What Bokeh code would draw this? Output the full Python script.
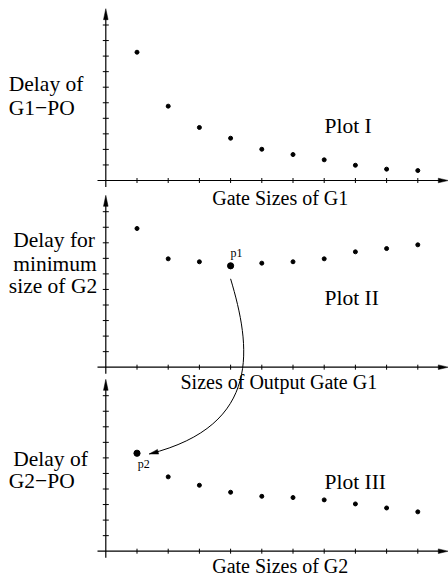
import math

from bokeh.plotting import figure
from bokeh.models import Range1d, Label
from bokeh.embed import file_html
from bokeh.resources import INLINE

# Gate sizes along every horizontal axis (1 = smallest size)
gate_sizes = [1, 2, 3, 4, 5, 6, 7, 8, 9, 10]
tick_values = [1, 2, 3, 4, 5, 6, 7, 8, 9, 10]

# Plot I: delay of the G1 -> PO path against the size of G1
delay_g1_po = [8.25, 4.78, 3.41, 2.72, 2.01, 1.67, 1.33, 0.98, 0.73, 0.64]
# Plot II: delay when G2 keeps its minimum size, against the size of output gate G1
delay_min_g2 = [8.92, 6.97, 6.78, 6.52, 6.69, 6.78, 6.97, 7.42, 7.63, 7.87]
# Plot III: delay of the G2 -> PO path against the size of G2
delay_g2_po = [6.30, 4.78, 4.24, 3.79, 3.53, 3.45, 3.30, 3.04, 2.78, 2.53]

p1_index = 3   # chosen G1 size in Plot II
p2_index = 0   # matching start point in Plot III

W, H = 448, 579
X0 = 105.3          # pixel column of the vertical axes
UX = 31.2           # pixels per gate-size step
UY = 15.55          # pixels per delay unit
ROWS = {"I": 180.0, "II": 366.7, "III": 550.7}   # pixel row of each horizontal axis
TEXT_LIFT = 7.0     # the label box sits a little below the requested baseline

FONT = "Liberation Serif"
INK = "black"


def off(right_px, down_px):
    """Pixel offset (right, down) expressed in data units."""
    return right_px / UX, -down_px / UY


p = figure(width=W, height=H, output_backend="svg", toolbar_location=None,
           x_axis_type=None, y_axis_type=None, min_border=0,
           x_range=Range1d(-X0 / UX, (W - X0) / UX),
           y_range=Range1d((ROWS["I"] - H) / UY, ROWS["I"] / UY))
p.extra_y_ranges = {name: Range1d((row - H) / UY, row / UY) for name, row in ROWS.items()}
p.outline_line_color = None
p.background_fill_color = "white"
p.border_fill_color = "white"

# ---- axes with arrow heads and ticks for each panel -------------------------
x_axis_start = off(97 - X0, 0)[0]
x_axis_tip = off(W - 0.2 - X0, 0)[0]
y_axis_tip = 11.05
y_axis_bottom = off(0, 6.5)[1]
head_len_x, head_half_x = off(10, 0)[0], off(0, 2.3)[1]
head_len_y, head_half_y = off(0, 11)[1], off(2.3, 0)[0]
xt_half = off(0, 2.5)[1]
yt_half = off(3.0, 0)[0]

for name in ROWS:
    # horizontal axis
    p.segment(x0=[x_axis_start], y0=[0], x1=[x_axis_tip + head_len_x * -0.5], y1=[0],
              line_color=INK, line_width=1.2, y_range_name=name)
    p.patch(x=[x_axis_tip, x_axis_tip - head_len_x, x_axis_tip - head_len_x],
            y=[0, head_half_x, -head_half_x],
            fill_color=INK, line_color=INK, line_width=0.5, y_range_name=name)
    # vertical axis
    p.segment(x0=[0], y0=[y_axis_bottom], x1=[0], y1=[y_axis_tip + head_len_y * 0.5],
              line_color=INK, line_width=1.2, y_range_name=name)
    p.patch(x=[0, -head_half_y, head_half_y],
            y=[y_axis_tip, y_axis_tip + head_len_y, y_axis_tip + head_len_y],
            fill_color=INK, line_color=INK, line_width=0.5, y_range_name=name)
    # ticks
    p.segment(x0=tick_values, y0=[-xt_half] * len(tick_values),
              x1=tick_values, y1=[xt_half] * len(tick_values),
              line_color=INK, line_width=1.0, y_range_name=name)
    p.segment(x0=[-yt_half] * len(tick_values), y0=tick_values,
              x1=[yt_half] * len(tick_values), y1=tick_values,
              line_color=INK, line_width=1.0, y_range_name=name)

# ---- data points --------------------------------------------------------------
def dots(values, name, big_index=None):
    small_x = [x for i, x in enumerate(gate_sizes) if i != big_index]
    small_y = [y for i, y in enumerate(values) if i != big_index]
    p.scatter(small_x, small_y, size=4, color=INK, y_range_name=name)
    if big_index is not None:
        p.scatter([gate_sizes[big_index]], [values[big_index]], size=6.2,
                  color=INK, y_range_name=name)


dots(delay_g1_po, "I")
dots(delay_min_g2, "II", p1_index)
dots(delay_g2_po, "III", p2_index)

# ---- curved arrow from p1 (Plot II) down to p2 (Plot III) -------------------
shift = (ROWS["III"] - ROWS["II"]) / UY     # Plot III units -> Plot II units
p1x, p1y = gate_sizes[p1_index], delay_min_g2[p1_index]
p2x, p2y = gate_sizes[p2_index], delay_g2_po[p2_index] - shift

sx, sy = off(0, 13)
ex, ey = off(12.3, 0.7)
c0x, c0y = off(20, 80)
c1x, c1y = off(126, -28)
start = (p1x + sx, p1y + sy)
end = (p2x + ex, p2y + ey)
ctrl0 = (p1x + c0x, p1y + c0y)
ctrl1 = (p2x + c1x, p2y + c1y)
p.bezier(x0=[start[0]], y0=[start[1]], x1=[end[0]], y1=[end[1]],
         cx0=[ctrl0[0]], cy0=[ctrl0[1]], cx1=[ctrl1[0]], cy1=[ctrl1[1]],
         line_color=INK, line_width=1.0, y_range_name="II")

# arrow head aligned with the curve's final tangent (computed in pixels)
tdx = (end[0] - ctrl1[0]) * UX
tdy = -(end[1] - ctrl1[1]) * UY
tl = math.hypot(tdx, tdy)
ux, uy = tdx / tl, tdy / tl
hl, hw = 9.0, 2.4
bx, by = -ux * hl, -uy * hl
pts_px = [(0, 0), (bx - uy * hw, by + ux * hw), (bx + uy * hw, by - ux * hw)]
hx, hy = [], []
for r, d in pts_px:
    ox, oy = off(r, d)
    hx.append(end[0] + ox)
    hy.append(end[1] + oy)
p.patch(x=hx, y=hy, fill_color=INK, line_color=INK, line_width=0.5, y_range_name="II")

# ---- point labels -----------------------------------------------------------------
lx, ly = off(0, -9 - TEXT_LIFT * 0.6)
p.add_layout(Label(x=p1x + lx, y=p1y + ly, y_range_name="II", text="p1",
                   text_font=FONT, text_font_size="12px", text_color=INK,
                   text_align="left", text_baseline="alphabetic"))
lx, ly = off(0.7, 15 - TEXT_LIFT * 0.6)
p.add_layout(Label(x=p2x + lx, y=delay_g2_po[p2_index] + ly, y_range_name="III", text="p2",
                   text_font=FONT, text_font_size="12px", text_color=INK,
                   text_align="left", text_baseline="alphabetic"))

# ---- axis titles and panel names (screen positions: left, baseline from top) ----
texts = [
    ("Delay of", 8.3, 90.7, "21.5px"),
    ("G1\u2212PO", 8.3, 114.0, "21.5px"),
    ("Plot I", 324.0, 132.7, "21.5px"),
    ("Gate Sizes of G1", 211.7, 204.0, "20px"),
    ("Delay for", 12.7, 246.7, "21.5px"),
    ("minimum", 12.7, 270.5, "21.5px"),
    ("size of G2", 8.3, 292.7, "21.5px"),
    ("Plot II", 324.0, 304.3, "21.5px"),
    ("Sizes of Output Gate G1", 180.0, 388.3, "20px"),
    ("Delay of", 12.7, 465.0, "21.5px"),
    ("G2\u2212PO", 8.3, 487.3, "21.5px"),
    ("Plot III", 324.0, 488.3, "21.5px"),
    ("Gate Sizes of G2", 211.7, 572.3, "20px"),
]
for txt, left, base, fs in texts:
    p.add_layout(Label(x=left, y=H - base + TEXT_LIFT, x_units="screen", y_units="screen",
                       text=txt, text_font=FONT, text_font_size=fs, text_color=INK,
                       text_align="left", text_baseline="alphabetic"))

open("out.html", "w").write(file_html(p, INLINE))
